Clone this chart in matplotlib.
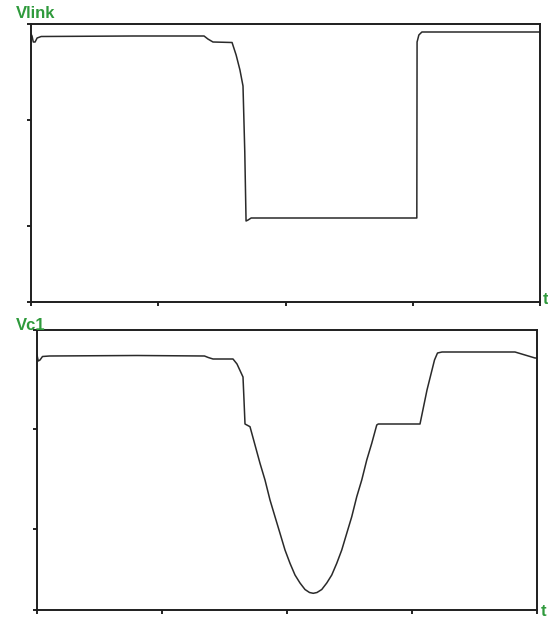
import matplotlib
matplotlib.use("Agg")
import matplotlib.pyplot as plt

# ---- data -------------------------------------------------------------
# DC-link voltage (time in ms, voltage in V)
vlink_t = [0, 0.4, 0.9, 1.6, 2.4, 4, 40, 68, 69.5, 71.5, 79, 80.6, 82.1,
           83.3, 84.0, 84.5, 85.3, 86.5, 120, 151.6, 151.7, 152.4, 153.6,
           175, 200]
vlink_v = [268, 266, 260, 260, 264, 265.5, 266, 266, 263, 260, 259.5, 247,
           232, 216, 150, 81, 82, 84, 84, 84, 260, 267, 270, 270, 270]

# Capacitor C1 voltage
vc1_t = [0, 0.5, 1.2, 2.2, 5, 40, 67, 68.5, 70.4, 78.4, 80, 82.4, 82.8,
         83.2, 85.2, 89.2, 91.2, 93.2, 95.2, 97.2, 99.2, 101.2, 103.2,
         105.2, 107.2, 109, 110.5, 112, 113.9, 115.9, 117.9, 119.9, 121.9,
         123.9, 125.9, 127.9, 129.9, 131.9, 133.9, 135.9, 136.5, 153.2,
         156, 159, 160.2, 162, 191.2, 199.2, 200]
vc1_v = [255, 249, 250, 253.5, 254, 254.5, 254, 252.5, 251, 251, 246, 233,
         210, 186, 183.3, 146.7, 130, 110, 93.3, 76.7, 60, 46.7, 35,
         27, 20.5, 17.5, 16.7, 17.5, 20.5, 27, 35, 46.7, 60, 76.7, 93.3,
         113.3, 130, 150, 166.7, 185, 186, 186, 220, 250, 257, 258, 258,
         252, 252]

time_ticks = [0, 50, 100, 150, 200]
vlink_ticks = [0, 76, 182, 278]
vc1_ticks = [0, 81, 181, 280]

# ---- figure -----------------------------------------------------------
W, H = 548, 617
fig = plt.figure(figsize=(W / 100, H / 100), dpi=100)
fig.patch.set_facecolor("white")

line_kw = dict(color="#2a2a2a", lw=1.1, solid_joinstyle="round")
green = "#2f9a3c"


def frame(ax, yticks, ylim):
    ax.set_xlim(0, 200)
    ax.set_ylim(*ylim)
    ax.set_xticks(time_ticks)
    ax.set_yticks(yticks)
    ax.set_xticklabels([])
    ax.set_yticklabels([])
    ax.tick_params(direction="out", length=3, width=1.4, color="#222")
    for s in ax.spines.values():
        s.set_color("#1e1e1e")
        s.set_linewidth(1.4)


ax1 = fig.add_axes([31 / W, 1 - 302 / H, (540 - 31) / W, (302 - 24) / H])
ax1.plot(vlink_t, vlink_v, **line_kw)
frame(ax1, vlink_ticks, (0, 278))

ax2 = fig.add_axes([37 / W, 1 - 610 / H, (537 - 37) / W, (610 - 330) / H])
ax2.plot(vc1_t, vc1_v, **line_kw)
frame(ax2, vc1_ticks, (0, 280))

lab_kw = dict(color=green, fontweight="bold", fontsize=12,
              family=["Liberation Sans", "DejaVu Sans"])
fig.text(16 / W, 1 - 13 / H, "Vlink", va="center", ha="left", **lab_kw)
fig.text(16 / W, 1 - 326 / H, "Vc1", va="center", ha="left", **lab_kw)
fig.text(543 / W, 1 - 300 / H, "t", va="center", ha="left", **lab_kw)
fig.text(541 / W, 1 - 611 / H, "t", va="center", ha="left", **lab_kw)

fig.savefig("out.png", dpi=100, facecolor="white")
